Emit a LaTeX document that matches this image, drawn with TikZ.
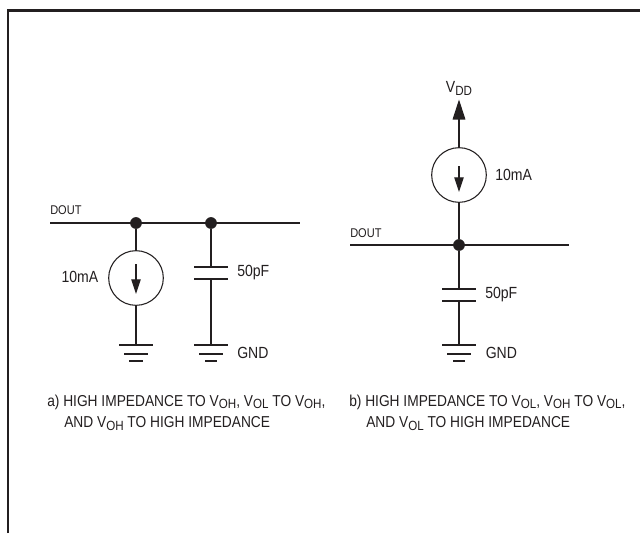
\documentclass[tikz,border=0pt]{standalone}
\usepackage{fontspec}
\setmainfont[FakeStretch=0.87]{Liberation Sans}
\usetikzlibrary{arrows.meta}
\definecolor{ink}{HTML}{231F20}
\tikzset{
  wire/.style={draw=ink,line width=0.85pt},
  dot/.style={circle,fill=ink,draw=none,minimum size=8.8pt,inner sep=0pt},
  source/.style={circle,draw=ink,line width=0.8pt,minimum size=41pt,inner sep=0pt},
  lab/.style={text=ink,font=\fontsize{12.1}{13}\selectfont,inner sep=0pt},
  smalllab/.style={text=ink,font=\fontsize{9.5}{10}\selectfont,inner sep=0pt},
  captext/.style={text=ink,font=\fontsize{11.85}{13}\selectfont,inner sep=0pt,anchor=west},
  head/.style={-{Triangle[length=11pt,width=7pt]},draw=ink,line width=0.8pt},
  bighead/.style={-{Triangle[length=15pt,width=9.5pt]},draw=ink,line width=0.85pt}
}
\newcommand{\Vs}[1]{V\raisebox{-0.3ex}{\fontsize{10}{10}\selectfont #1}}
\begin{document}
\begin{tikzpicture}[x=0.75pt,y=-0.75pt]
\useasboundingbox (0,0) rectangle (640,533);
\fill[white] (0,0) rectangle (640,533);
\draw[ink,line width=1.6pt] (8,533) -- (8,10.5) -- (640,10.5);
% circuit a
\coordinate (aL) at (50,223); \coordinate (aR) at (300,223);
\node[dot] (a1) at (136,223) {};
\node[dot] (a2) at (211,223) {};
\draw[wire] (aL) -- (aR);
\node[source] (s1) at (136,278) {};
\draw[wire] (a1) -- (s1);
\coordinate (g1) at (136,345);
\draw[wire] (s1) -- (g1);
\draw[wire] (119,345) -- (153,345) (124,354) -- (148,354) (129,361) -- (143,361);
\coordinate (a3) at (136,264); \coordinate (a4) at (136,294);
\draw[head] (a3) -- (a4);
\coordinate (c1t) at (211,267); \coordinate (c1b) at (211,279); \coordinate (g2) at (211,345);
\draw[wire] (a2) -- (c1t) (c1b) -- (g2);
\draw[wire] (194,267) -- (228,267) (194,279) -- (228,279);
\draw[wire] (194,345) -- (228,345) (199,354) -- (223,354) (205,361) -- (217,361);
\node[smalllab,anchor=west] (dl1) at (50,210.5) {DOUT};
\node[lab,anchor=east] (l1) at (98.5,277) {10mA};
\node[lab,anchor=west] (l2) at (237,273) {50pF};
\node[lab,anchor=west] (l3) at (237,353) {GND};
% circuit b
\coordinate (bL) at (350,245); \coordinate (bR) at (568.5,245);
\node[dot] (b1) at (459,245) {};
\draw[wire] (bL) -- (bR);
\node[source] (s2) at (459,175) {};
\coordinate (vt) at (459,99.5);
\draw[bighead] (s2) -- (vt);
\draw[wire] (s2) -- (b1);
\coordinate (a5) at (459,166); \coordinate (a6) at (459,192);
\draw[head] (a5) -- (a6);
\coordinate (c2t) at (459,289); \coordinate (c2b) at (459,301); \coordinate (g3) at (459,345);
\draw[wire] (b1) -- (c2t) (c2b) -- (g3);
\draw[wire] (442,289) -- (476,289) (442,301) -- (476,301);
\draw[wire] (442,345) -- (476,345) (447,354) -- (471,354) (453,361) -- (465,361);
\node[smalllab,anchor=west] (dl2) at (350,233) {DOUT};
\node[lab] (vdd) at (459,88.5) {\Vs{DD}};
\node[lab,anchor=west] (l4) at (495,175) {10mA};
\node[lab,anchor=west] (l5) at (485,295) {50pF};
\node[lab,anchor=west] (l6) at (485.5,353) {GND};
% captions
\node[captext] (ca1) at (47,402) {a) HIGH IMPEDANCE TO \Vs{OH}, \Vs{OL} TO \Vs{OH},};
\node[captext] (ca2) at (64,423.5) {AND \Vs{OH} TO HIGH IMPEDANCE};
\node[captext] (cb1) at (349,402) {b) HIGH IMPEDANCE TO \Vs{OL}, \Vs{OH} TO \Vs{OL},};
\node[captext] (cb2) at (366,423.5) {AND \Vs{OL} TO HIGH IMPEDANCE};
\end{tikzpicture}
\end{document}
